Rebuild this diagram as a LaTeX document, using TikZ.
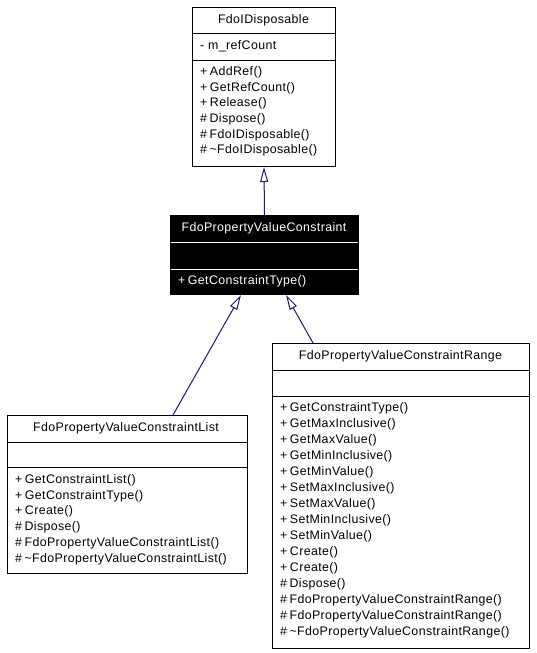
\documentclass[tikz,border=0pt]{standalone}
\usepackage{fontspec}
\setmainfont{Liberation Sans}[LetterSpace=3]
\usetikzlibrary{arrows.meta,positioning}
\definecolor{edgeblue}{RGB}{25,25,112}
\newcommand{\pubm}{+\kern2.5pt}
\newcommand{\protm}{\#\kern2.5pt}

\begin{document}
\begin{tikzpicture}[x=1pt,y=-1pt,
  classbox/.style={draw,line width=1pt,anchor=north west,inner sep=0pt},
  title/.style={inner sep=0pt,font=\fontsize{12.4}{14}\selectfont},
  member/.style={anchor=west,inner sep=0pt,font=\fontsize{12.4}{14}\selectfont},
  inherit/.style={edgeblue,line width=1pt,-{Triangle[open,length=15pt,width=8pt]}}]
  \useasboundingbox (0,0) rectangle (536,653);

  % FdoIDisposable
  \node[classbox,minimum width=143,minimum height=159] (idisp) at (192,7) {};
  \draw[line width=1pt] (192,33) -- (335,33) (192,60) -- (335,60);
  \node[title] (idisptitle) at (263.5,20) {FdoIDisposable};
  \node[member] at (200,46.5) {- m\_refCount};
  \foreach \m [count=\i from 0] in {\pubm AddRef(),\pubm GetRefCount(),\pubm Release(),
      \protm Dispose(),\protm FdoIDisposable(),\protm\textasciitilde FdoIDisposable()}
    \node[member] at (200,72.5+15.6*\i) {\m};

  % FdoPropertyValueConstraint (highlighted)
  \node[classbox,fill=black,minimum width=188,minimum height=79] (pvc) at (170,215) {};
  \draw[white,line width=1pt] (170.5,242) -- (357.5,242) (170.5,269) -- (357.5,269);
  \node[title,white] (pvctitle) at (264,228.5) {FdoPropertyValueConstraint};
  \node[member,white] at (178,281.5) {\pubm GetConstraintType()};

  % FdoPropertyValueConstraintList
  \node[classbox,minimum width=240,minimum height=158] (pvclist) at (7,415) {};
  \draw[line width=1pt] (7,442) -- (247,442) (7,467) -- (247,467);
  \node[title] (pvclisttitle) at (126,428.5) {FdoPropertyValueConstraintList};
  \foreach \m [count=\i from 0] in {\pubm GetConstraintList(),\pubm GetConstraintType(),\pubm Create(),
      \protm Dispose(),\protm FdoPropertyValueConstraintList(),
      \protm\textasciitilde FdoPropertyValueConstraintList()}
    \node[member] at (15,480+15.8*\i) {\m};

  % FdoPropertyValueConstraintRange
  \node[classbox,minimum width=257,minimum height=305] (pvcrange) at (272,343) {};
  \draw[line width=1pt] (272,370) -- (529,370) (272,396) -- (529,396);
  \node[title] (pvcrangetitle) at (400.5,356) {FdoPropertyValueConstraintRange};
  \foreach \m [count=\i from 0] in {\pubm GetConstraintType(),\pubm GetMaxInclusive(),\pubm GetMaxValue(),
      \pubm GetMinInclusive(),\pubm GetMinValue(),\pubm SetMaxInclusive(),\pubm SetMaxValue(),
      \pubm SetMinInclusive(),\pubm SetMinValue(),\pubm Create(),\pubm Create(),\protm Dispose(),
      \protm FdoPropertyValueConstraintRange(),\protm FdoPropertyValueConstraintRange(),
      \protm\textasciitilde FdoPropertyValueConstraintRange()}
    \node[member] at (280,408+16*\i) {\m};

  % inheritance
  \draw[inherit] (pvc.north) -- (idisp.south);
  \draw[inherit] ([xshift=166pt]pvclist.north west) -- ([xshift=71pt]pvc.south west);
  \draw[inherit] ([xshift=41pt]pvcrange.north west) -- ([xshift=116pt]pvc.south west);
\end{tikzpicture}
\end{document}
